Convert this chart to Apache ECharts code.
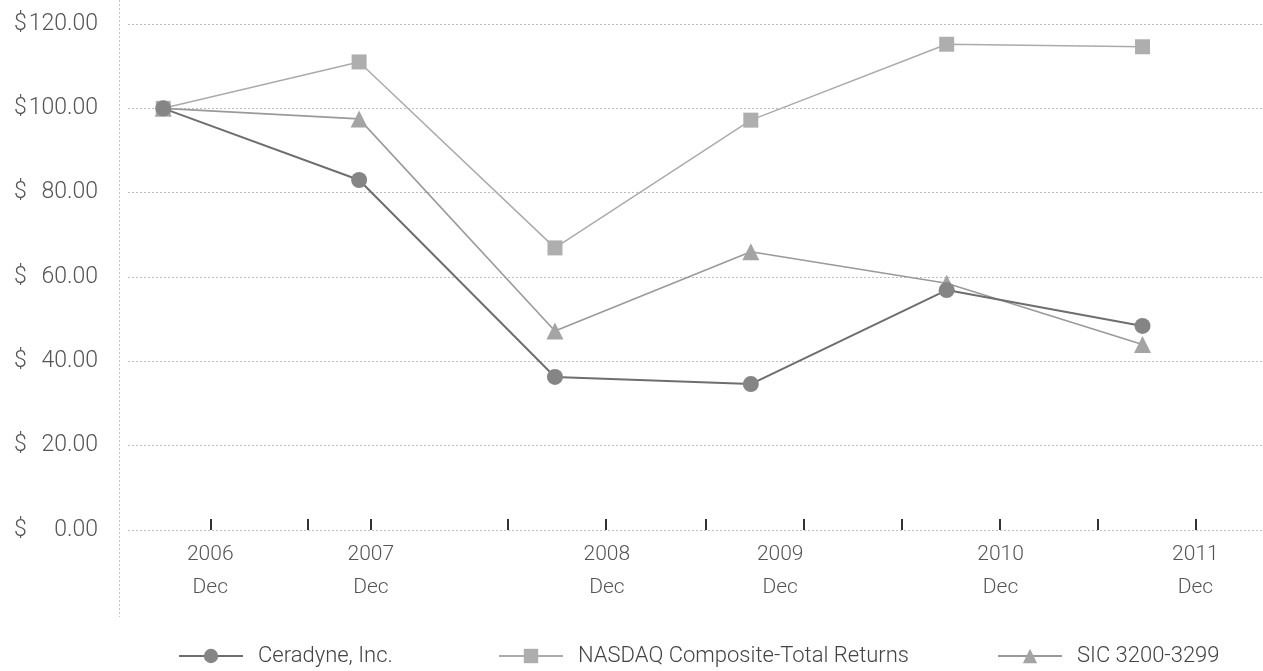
<!DOCTYPE html>
<html>
<head>
<meta charset="utf-8">
<script src="https://cdn.jsdelivr.net/npm/echarts@6/dist/echarts.min.js"></script>
<style>
html,body{margin:0;padding:0;background:#fff;}
#chart{width:1263px;height:671px;}
</style>
</head>
<body>
<div id="chart"></div>
<script>
// ---- data ----
const years = ['2006', '2007', '2008', '2009', '2010', '2011'];
const periodLabel = 'Dec';
const seriesNames = ['Ceradyne, Inc.', 'NASDAQ Composite-Total Returns', 'SIC 3200-3299'];
const ceradyne = [100, 83, 36.3, 34.6, 56.9, 48.4];
const nasdaq = [100, 111, 66.9, 97.2, 115.2, 114.6];
const sic = [100, 97.5, 47.2, 66.0, 58.5, 44.0];

// ---- layout (axis positions in "period index" units) ----
const xMin = -0.18, xMax = 5.61;
const tickPositions = [0.24, 0.74, 1.06, 1.76, 2.26, 2.77, 3.27, 3.77, 4.27, 4.77, 5.27];
const labelPositions = [0.24, 1.06, 2.265, 3.15, 4.275, 5.27];
const legendLefts = [173, 493, 992];

const font = "Roboto, sans-serif";
const toPts = arr => arr.map((v, i) => [i, v]);

const legendBase = {
  top: 640,
  itemWidth: 64, itemHeight: 18,
  textStyle: {color: '#444', fontFamily: font, fontWeight: 300, fontSize: 22, padding: [0, 0, 0, 10]}
};

const chart = echarts.init(document.getElementById('chart'), null, {renderer: 'canvas'});
chart.setOption({
  animation: false,
  backgroundColor: '#fff',
  grid: {left: 128, right: 1, top: 24, bottom: 141, containLabel: false},
  xAxis: {
    type: 'value',
    min: xMin, max: xMax,
    axisLine: {show: false},
    splitLine: {show: false},
    axisTick: {
      show: true, inside: true, length: 11,
      customValues: tickPositions,
      lineStyle: {color: '#333', width: 2}
    },
    axisLabel: {
      customValues: labelPositions,
      margin: 8,
      color: '#555',
      fontFamily: font,
      fontWeight: 300,
      fontSize: 21,
      lineHeight: 33,
      formatter: (v, idx) => {
        let k = labelPositions.indexOf(v);
        if (k < 0) k = idx;
        return years[k] + '\n' + periodLabel;
      }
    }
  },
  yAxis: {
    type: 'value',
    min: 0, max: 120, interval: 20,
    axisLine: {show: false},
    axisTick: {show: false},
    splitLine: {show: true, lineStyle: {color: '#bdbdbd', type: [2, 2], width: 1}},
    axisLabel: {
      margin: 30,
      color: '#555',
      formatter: v => '{d|$}{n|' + v.toFixed(2) + '}',
      rich: {
        d: {width: 14, align: 'left', fontSize: 23, fontWeight: 300, fontFamily: font, color: '#555'},
        n: {width: 70, align: 'right', fontSize: 23, fontWeight: 300, fontFamily: font, color: '#555'}
      }
    }
  },
  legend: seriesNames.map((n, i) => Object.assign({}, legendBase, {left: legendLefts[i], data: [n]})),
  graphic: [{
    type: 'line', silent: true,
    shape: {x1: 119.5, y1: 0, x2: 119.5, y2: 617},
    style: {stroke: '#c4c4c4', lineWidth: 1, lineDash: [2, 2]}
  }],
  series: [
    {
      name: seriesNames[0], type: 'line', z: 5,
      data: toPts(ceradyne),
      symbol: 'circle', symbolSize: 16,
      lineStyle: {color: '#6e6e6e', width: 2},
      itemStyle: {color: '#858585'}
    },
    {
      name: seriesNames[1], type: 'line', z: 3,
      data: toPts(nasdaq),
      symbol: 'rect', symbolSize: 15,
      lineStyle: {color: '#ababab', width: 1.5},
      itemStyle: {color: '#aeaeae'}
    },
    {
      name: seriesNames[2], type: 'line', z: 4,
      data: toPts(sic),
      symbol: 'triangle', symbolSize: 17,
      lineStyle: {color: '#9a9a9a', width: 1.6},
      itemStyle: {color: '#a4a4a4'}
    }
  ]
});
</script>
</body>
</html>
